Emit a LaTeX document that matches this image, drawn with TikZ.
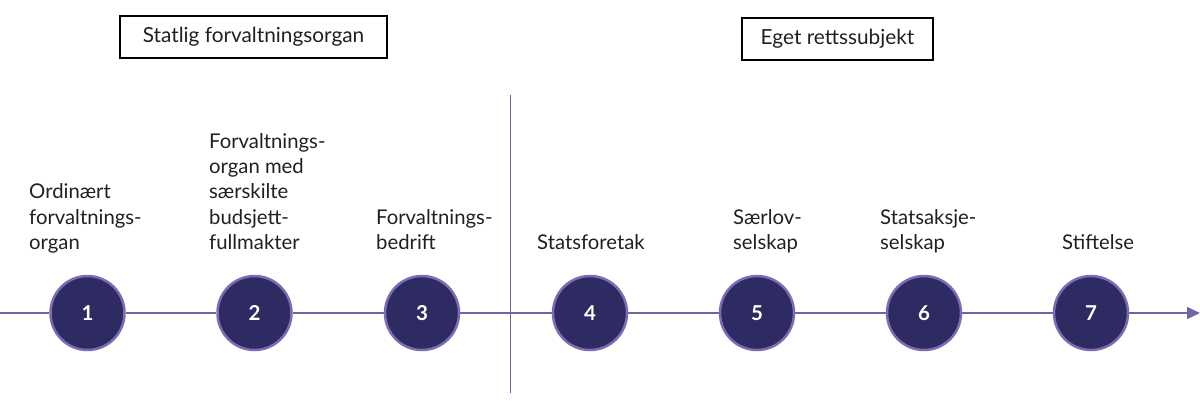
\documentclass[tikz,border=0pt]{standalone}
\usepackage{fontspec}
\setmainfont{Lato}
\usetikzlibrary{arrows.meta}
\definecolor{navy}{HTML}{2E2A62}
\definecolor{ringc}{HTML}{7B6DB5}
\definecolor{axisc}{HTML}{6F64AA}
\definecolor{txt}{HTML}{231F20}
\begin{document}
\begin{tikzpicture}[x=1pt,y=-1pt,
  lbl/.style={anchor=south west,inner sep=0pt,align=left,text=txt,
    font=\fontsize{20.3}{25.4}\selectfont},
  hdr/.style={draw=black,line width=2pt,inner sep=0pt,text=txt,
    font=\fontsize{20.8}{23}\selectfont},
  stepc/.style={circle,minimum size=74pt,inner sep=0pt,fill=navy,draw=ringc,
    line width=2.5pt,text=white,font=\fontsize{20.5}{22}\selectfont\bfseries},
  axisline/.style={draw=axisc,line width=1.5pt}]
\useasboundingbox (0,0) rectangle (1200,408);
% header boxes
\node[hdr,minimum width=267pt,minimum height=42pt] (h1) at (253.5,37) {Statlig forvaltningsorgan};
\node[hdr,minimum width=191pt,minimum height=42pt] (h2) at (837.5,39) {Eget rettssubjekt};
% divider
\coordinate (vt) at (510.7,95);
\coordinate (vb) at (510.7,393);
\draw[axisline] (vt) -- (vb);
% circles
\node[stepc] (c1) at (87.5,313) {1};
\node[stepc] (c2) at (254.5,313) {2};
\node[stepc] (c3) at (422,313) {3};
\node[stepc] (c4) at (590,313) {4};
\node[stepc] (c5) at (757,313) {5};
\node[stepc] (c6) at (924,313) {6};
\node[stepc] (c7) at (1091,313) {7};
% axis
\coordinate (a0) at (0,313);
\coordinate (a1) at (1200,313);
\draw[axisline] (a0) -- (c1);
\draw[axisline] (c1) -- (c2);
\draw[axisline] (c2) -- (c3);
\draw[axisline] (c3) -- (c4);
\draw[axisline] (c4) -- (c5);
\draw[axisline] (c5) -- (c6);
\draw[axisline] (c6) -- (c7);
\draw[axisline,-{Triangle[length=13pt,width=12pt]}] (c7) -- (a1);
% labels
\node[lbl] (l1) at (29,257.6) {Ordinært\strut\\forvaltnings-\strut\\organ\strut};
\node[lbl] (l2) at (209,257.6) {Forvaltnings-\strut\\organ med\strut\\særskilte\strut\\budsjett-\strut\\fullmakter\strut};
\node[lbl] (l3) at (376,257.6) {Forvaltnings-\strut\\bedrift\strut};
\node[lbl] (l4) at (537,257.6) {Statsforetak\strut};
\node[lbl] (l5) at (733,257.6) {Særlov-\strut\\selskap\strut};
\node[lbl] (l6) at (880,257.6) {Statsaksje-\strut\\selskap\strut};
\node[lbl] (l7) at (1062,257.6) {Stiftelse\strut};
\end{tikzpicture}
\end{document}
